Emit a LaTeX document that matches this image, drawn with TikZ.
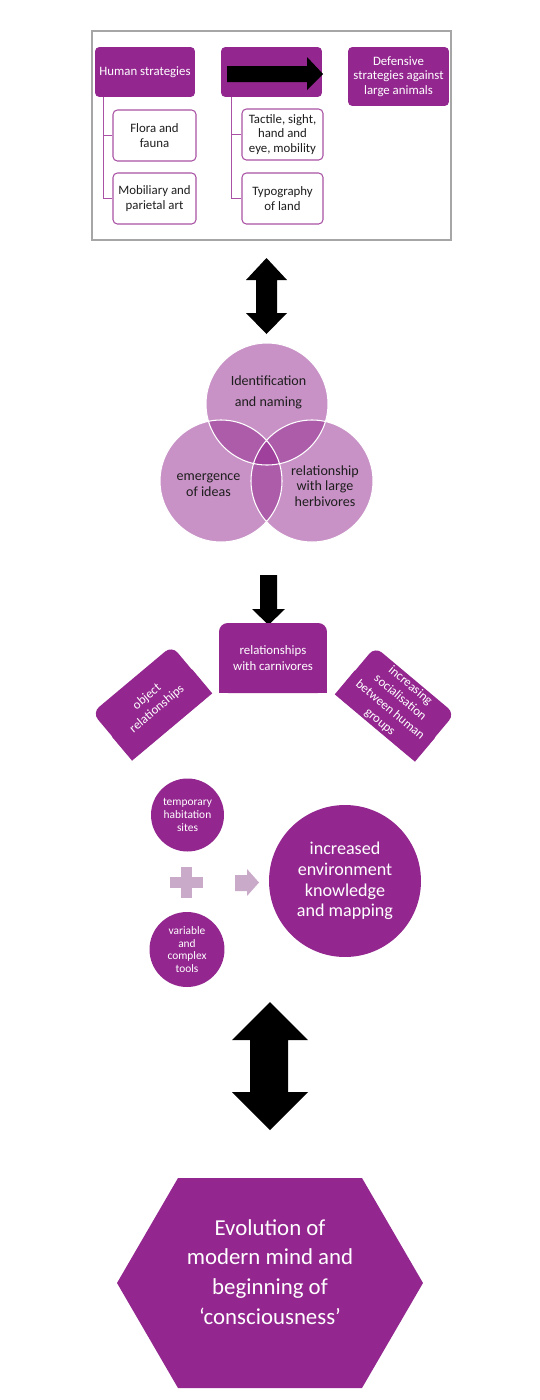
\documentclass[tikz,border=0pt]{standalone}
\usepackage{fontspec}
\setmainfont{Carlito}
\usetikzlibrary{backgrounds}
\definecolor{plum}{HTML}{93278F}
\definecolor{mauve}{HTML}{C9AAC9}
\definecolor{framegray}{HTML}{A6A6A6}
\definecolor{ink}{HTML}{1E1E1E}

\begin{document}
\begin{tikzpicture}[x=0.02cm,y=-0.02cm,every node/.style={align=center,inner sep=0pt},pbox/.style={fill=plum,text=white,rounded corners=2.5pt,font=\fontsize{7.3}{8.3}\selectfont},wbox/.style={draw=plum!80,line width=.6pt,fill=white,text=ink,rounded corners=2.5pt,font=\fontsize{7.3}{8.3}\selectfont},link/.style={plum!80,line width=.9pt},tab/.style={fill=plum,text=white,rounded corners=5pt,font=\fontsize{7.3}{9}\selectfont},venn/.style={fill=plum,fill opacity=.5},vtext/.style={text=ink,font=\fontsize{8}{9}\selectfont},dot/.style={circle,fill=plum,text=white}]
\useasboundingbox (0,0) rectangle (540,1400);
\draw[framegray,line width=.6pt] (92,31) rectangle (451,240);
\node[pbox,minimum width=2cm,minimum height=1cm] (human) at (145,72){Human strategies};
\node[pbox,minimum width=2.02cm,minimum height=1cm] (arrowbox) at (271.5,72){};
\node[pbox,minimum width=2.02cm,minimum height=1.18cm] (defence) at (398.5,76.5){Defensive\\strategies against\\large animals};
\node[wbox,minimum width=1.66cm,minimum height=1.02cm] (flora) at (154.5,135.5){Flora and\\fauna};\node[wbox,minimum width=1.66cm,minimum height=1.02cm] (mobil) at (154.5,198.5){Mobiliary and\\parietal art};
\node[wbox,minimum width=1.62cm,minimum height=1.02cm] (tactile) at (282.5,134.5){Tactile, sight,\\hand and\\eye, mobility};\node[wbox,minimum width=1.62cm,minimum height=1.02cm] (typo) at (282.5,198.5){Typography\\of land};
\draw[link] ([xshift=.18cm]human.south west) |- (flora.west);\draw[link] ([xshift=.18cm]human.south west) |- (mobil.west);
\draw[link] ([xshift=.22cm]arrowbox.south west) |- (tactile.west);\draw[link] ([xshift=.22cm]arrowbox.south west) |- (typo.west);
\fill[black] (227,66)--(307,66)--(307,57)--(323,74)--(307,90)--(307,82)--(227,82)--cycle;
% both ways between the strategies and the venn
\fill[black] (266.5,258)--(287,280)--(277,280)--(277,313)--(287,313)--(266.5,334)--(246,313)--(256,313)--(256,280)--(246,280)--cycle;
\fill[venn] (267,404) circle[radius=61];\fill[venn] (221,481) circle[radius=61];\fill[venn] (312,481) circle[radius=61];
\draw[white,line width=.6pt] (267,404) circle[radius=61] (221,481) circle[radius=61] (312,481) circle[radius=61];
\node[vtext] (ident) at (268.5,392){Identification\\[3pt]and naming};
\node[vtext] (ideas) at (208.5,485.5){emergence\\of ideas};
\node[vtext] (herb) at (325,486){relationship\\with large\\herbivores};
\fill[black] (260,575)--(277,575)--(277,609)--(285,609)--(268.5,625)--(252,609)--(260,609)--cycle;
\node[tab,minimum width=2.16cm,minimum height=1.4cm] (carniv) at (273,658){relationships\\with carnivores};
\node[tab,rotate=40,minimum width=2.08cm,minimum height=1.24cm] (objrel) at (152,703){object\\relationships};
\node[tab,rotate=-40,minimum width=2.08cm,minimum height=1.24cm] (social) at (395,704){increasing\\socialisation\\between human\\groups};
\node[dot,minimum size=1.46cm,font=\fontsize{6.5}{7.4}\selectfont] (habit) at (187.5,815){temporary\\habitation\\sites};
\node[dot,minimum size=1.5cm,font=\fontsize{6.5}{7.2}\selectfont] (tools) at (187,949.5){variable\\and\\complex\\tools};
\node[dot,minimum size=3.04cm,font=\fontsize{10.3}{11.7}\selectfont] (envknow) at (345,881){increased\\environment\\knowledge\\and mapping};
\fill[mauve] (181,867) rectangle (192,898);\fill[mauve] (170,877) rectangle (203,888);
\fill[mauve] (235,875)--(247,875)--(247,869)--(259,882.5)--(247,896)--(247,891)--(235,891)--cycle;
\fill[black] (270,1002)--(308,1040)--(288,1040)--(288,1092)--(308,1092)--(270,1130)--(232,1092)--(250,1092)--(250,1040)--(232,1040)--cycle;
\fill[plum] (117,1283)--(178,1178)--(362,1178)--(423,1283)--(362,1388)--(178,1388)--cycle;
\node[text=white,font=\fontsize{13}{17}\selectfont] (mind) at (270,1272){Evolution of\\modern mind and\\beginning of\\‘consciousness’};
\begin{scope}[on background layer]
\fill[white] (0,0) rectangle (540,1400);
\fill[plum] (carniv.west)--(carniv.south west)--(carniv.south east)--(carniv.east)--cycle;
\fill[plum] (objrel.west)--(objrel.south west)--(objrel.south east)--(objrel.east)--cycle;
\fill[plum] (social.west)--(social.south west)--(social.south east)--(social.east)--cycle;
\end{scope}
\end{tikzpicture}
\end{document}
